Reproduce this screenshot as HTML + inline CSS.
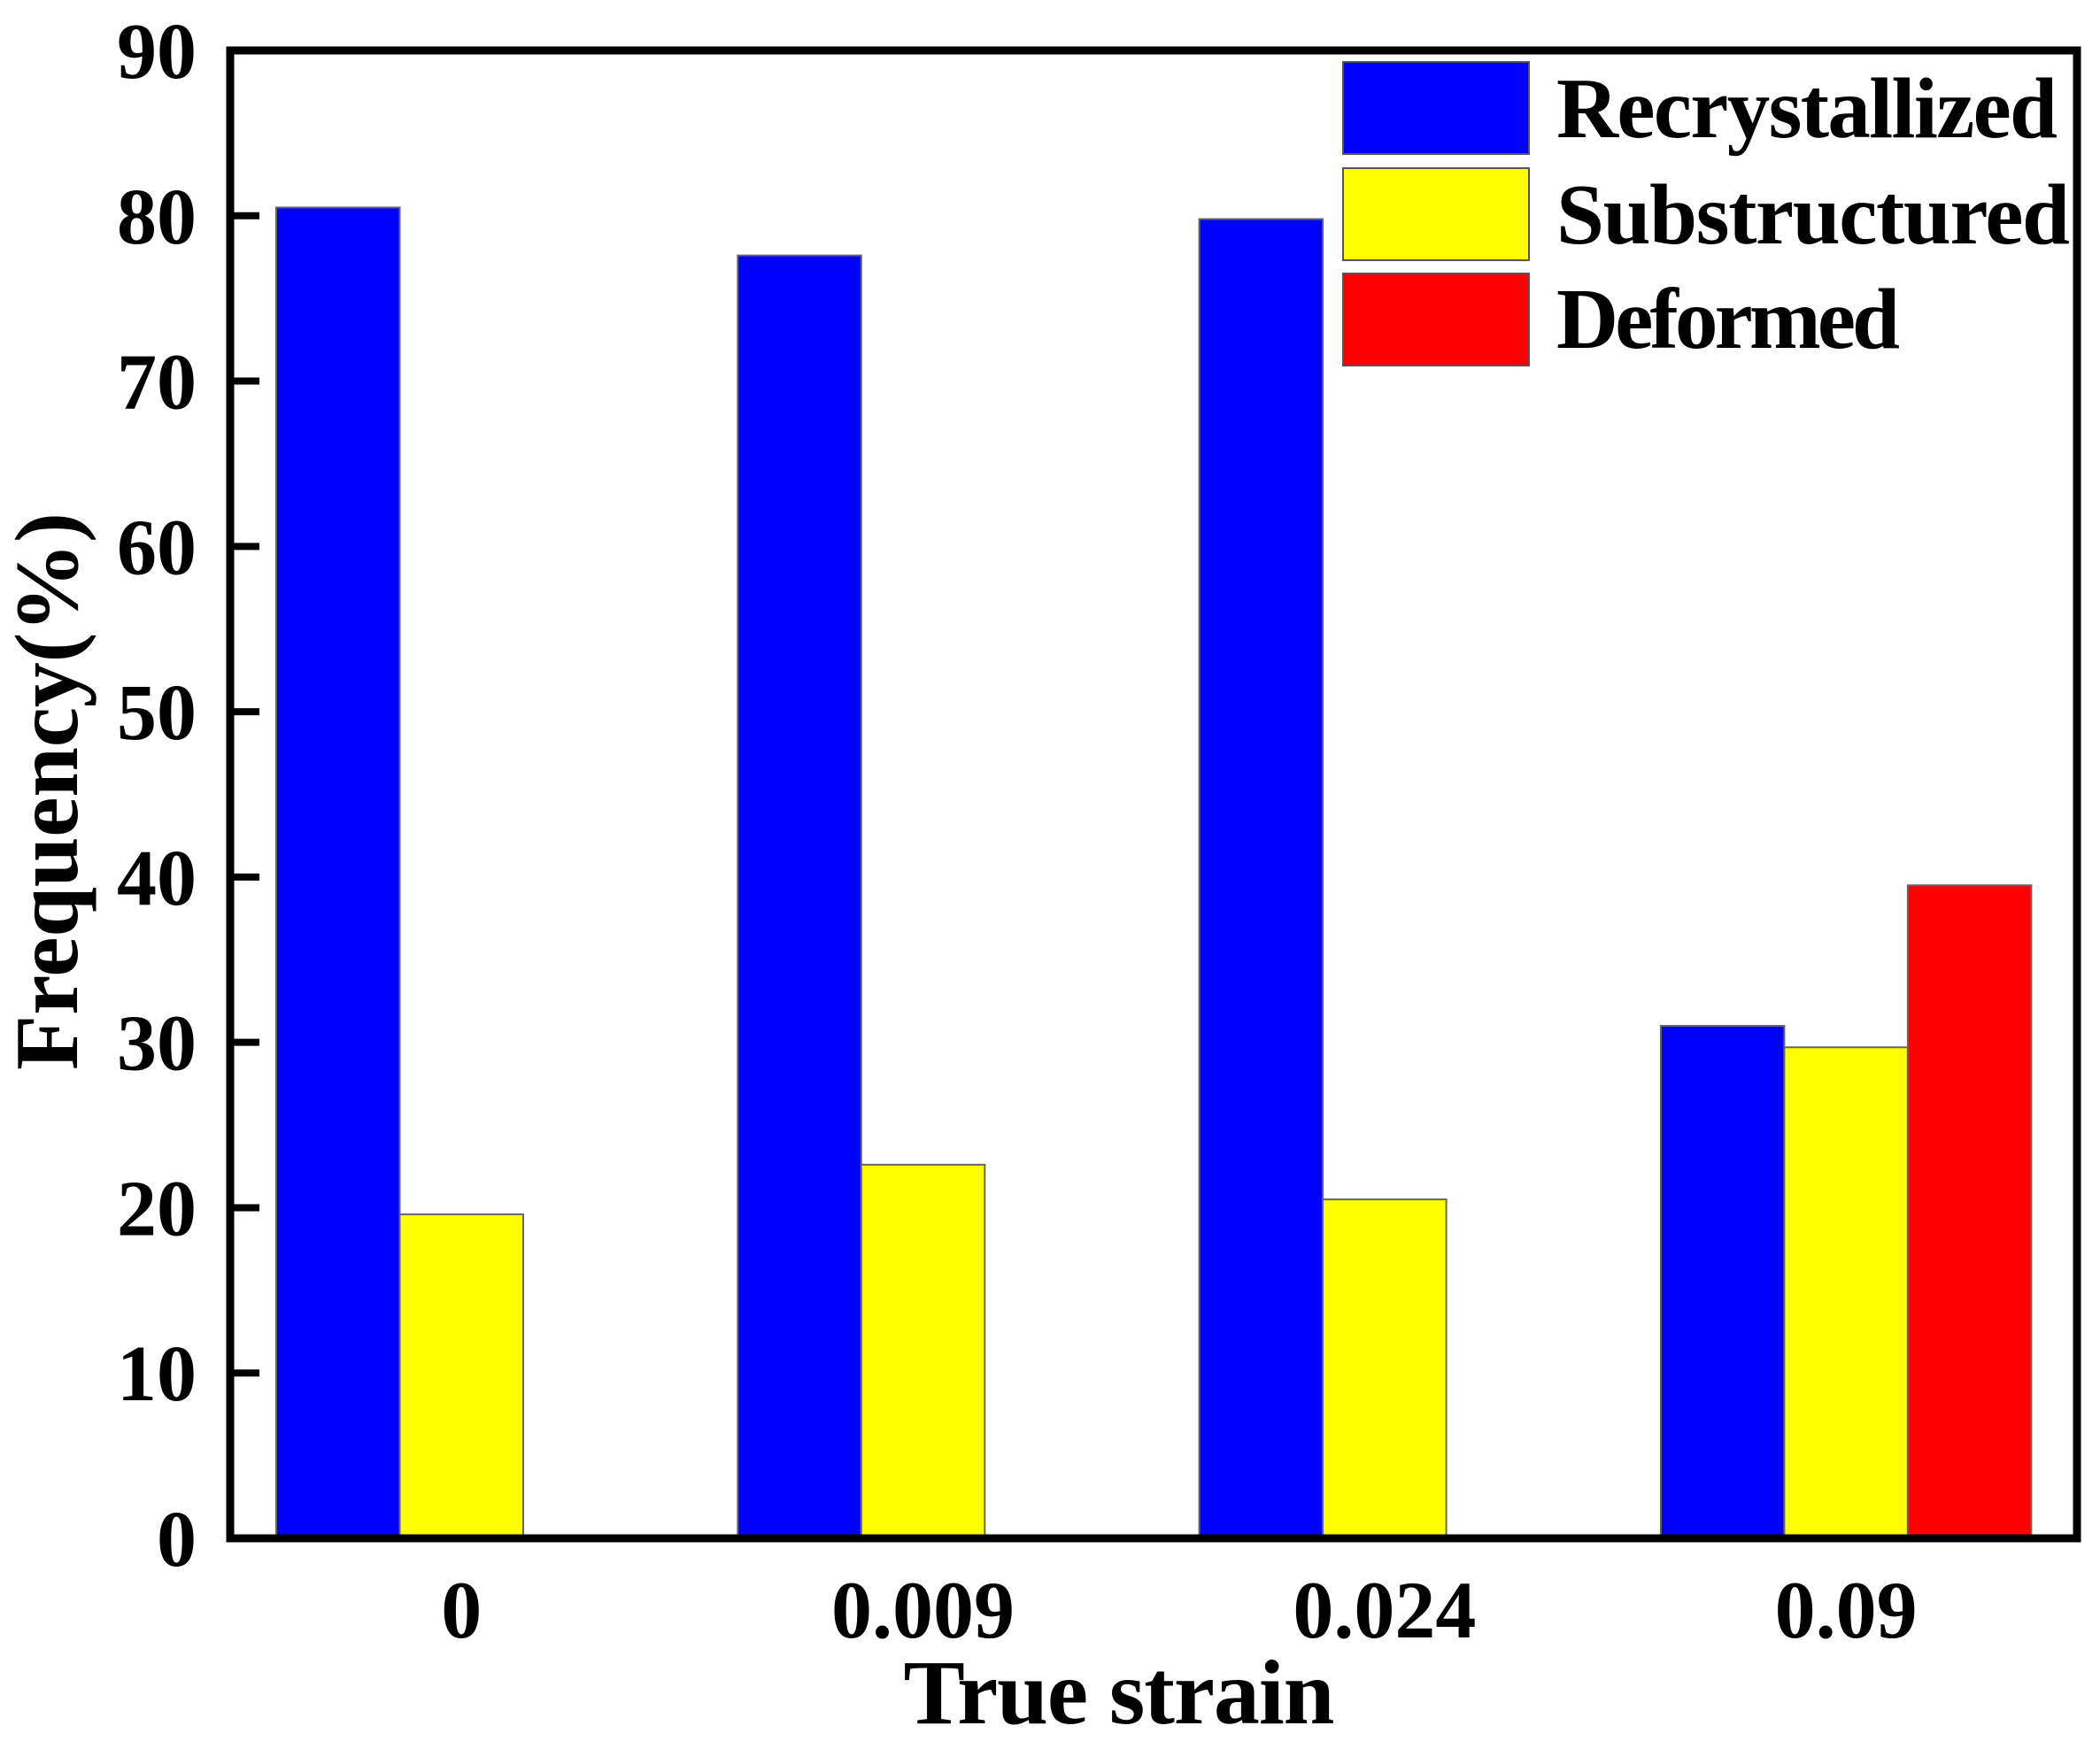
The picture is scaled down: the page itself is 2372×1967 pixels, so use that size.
<!DOCTYPE html>
<html><head><meta charset="utf-8"><style>
html,body{margin:0;padding:0;background:#fff;}
svg{display:block;font-family:"Liberation Serif",serif;font-weight:bold;}
</style></head><body>
<svg id="chart" width="2372" height="1967" viewBox="0 0 2372 1967" xmlns="http://www.w3.org/2000/svg">
<rect x="0" y="0" width="2372" height="1967" fill="#fff"/>
<g id="bars"></g>
<g id="axes"></g>
<g id="legend"></g>
<text x="1264" y="1947" font-size="104" text-anchor="middle" textLength="487">True strain</text>
<text transform="translate(87,894) rotate(-90)" font-size="102" text-anchor="middle" textLength="630">Frequency(%)</text>
</svg>
<script>
const categories = ["0", "0.009", "0.024", "0.09"];
const seriesNames = ["Recrystallized", "Substructured", "Deformed"];
const recrystallized = [80.5, 77.6, 79.8, 31.0];
const substructured = [19.6, 22.6, 20.5, 29.7];
const deformed = [0, 0, 0, 39.5];
const yTicks = [0, 10, 20, 30, 40, 50, 60, 70, 80, 90];
const colors = ["#0000ff", "#ffff00", "#ff0000"];

const NS = "http://www.w3.org/2000/svg";
const plot = {left: 260, right: 2346, top: 57, bottom: 1738};
const yMin = 0, yMax = 90;
function yScale(v){ return plot.bottom - (v - yMin) / (yMax - yMin) * (plot.bottom - plot.top); }
const groupStart = 312, groupSpacing = 521.3, barW = 139.5;
function xBar(ci, si){ return groupStart + ci * groupSpacing + si * barW; }
function mk(tag, attrs){ const e = document.createElementNS(NS, tag); for (const k in attrs) e.setAttribute(k, attrs[k]); return e; }

const bars = document.getElementById('bars');
const series = [recrystallized, substructured, deformed];
series.forEach((vals, si) => {
  vals.forEach((v, ci) => {
    if (v <= 0) return;
    const y = yScale(v);
    const r = mk('rect', {x: xBar(ci, si), y: y, width: barW, height: plot.bottom - y, fill: colors[si], stroke: '#666', 'stroke-width': 2});
    
    
    bars.appendChild(r);
  });
});

const axes = document.getElementById('axes');
yTicks.forEach(t => {
  const y = yScale(t);
  if (t > yMin && t < yMax) {
    const tk = mk('line', {x1: plot.left, x2: plot.left + 33, y1: y, y2: y, stroke: '#000', 'stroke-width': 8});
    
    
    axes.appendChild(tk);
  }
  const lb = mk('text', {x: 222, y: y + 31, 'font-size': 90, 'text-anchor': 'end'});
  lb.textContent = String(t);
  
  
  axes.appendChild(lb);
});
categories.forEach((c, ci) => {
  const cx = xBar(ci, 1) + barW / 2;
  const lb = mk('text', {x: cx, y: 1850, 'font-size': 92, 'text-anchor': 'middle'});
  lb.textContent = c;
  
  
  axes.appendChild(lb);
});
const frame = mk('rect', {x: plot.left, y: plot.top, width: plot.right - plot.left, height: plot.bottom - plot.top, fill: 'none', stroke: '#000', 'stroke-width': 9});


axes.appendChild(frame);

const legend = document.getElementById('legend');
const legendY = [70, 190, 309];
const legendBase = [155, 275, 393];
const legendLen = [566, 580, 388];
seriesNames.forEach((n, i) => {
  const sw = mk('rect', {x: 1517, y: legendY[i], width: 210, height: 104, fill: colors[i], stroke: '#555', 'stroke-width': 2});
  
  
  legend.appendChild(sw);
  const t = mk('text', {x: 1758, y: legendBase[i], 'font-size': 97, textLength: legendLen[i]});
  t.textContent = n;
  
  
  legend.appendChild(t);
});
</script>
</body></html>
